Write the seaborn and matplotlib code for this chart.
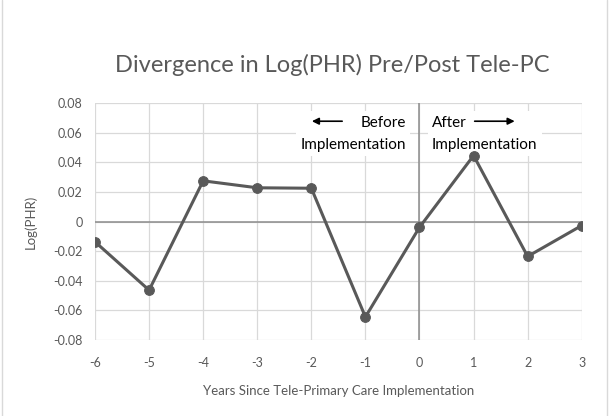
# -*- coding: utf-8 -*-

import matplotlib.pyplot as plt
import matplotlib.lines as mlines
import seaborn as sns
import pandas as pd

years = [-6, -5, -4, -3, -2, -1, 0, 1, 2, 3]
log_phr = [-0.0137, -0.0464, 0.0275, 0.0228, 0.0225, -0.0645, -0.0039, 0.0446, -0.0236, -0.0027]
y_ticks = [-0.08, -0.06, -0.04, -0.02, 0, 0.02, 0.04, 0.06, 0.08]
y_tick_labels = ['-0.08', '-0.06', '-0.04', '-0.02', '0', '0.02', '0.04', '0.06', '0.08']

df = pd.DataFrame({'Year': years, 'LogPHR': log_phr})

sns.set_style("white")
plt.rcParams['font.family'] = ['Lato', 'DejaVu Sans']

gray = '#595959'
fig = plt.figure(figsize=(6.13, 4.16), dpi=100)
ax = fig.add_axes([0.155, 0.183, 0.794, 0.569])

ax.grid(True, color='#d9d9d9', linewidth=0.9)
ax.set_axisbelow(True)
ax.axhline(0, color='#8c8c8c', linewidth=1.1, zorder=1)

sns.lineplot(data=df, x='Year', y='LogPHR', ax=ax, color=gray, linewidth=2.2,
             marker='o', markersize=7, markeredgecolor=gray, zorder=6)

ax.set_xlim(-6, 3)
ax.set_ylim(-0.08, 0.08)
ax.set_xticks(years)
ax.set_xticklabels([str(y) for y in years])
ax.set_yticks(y_ticks)
ax.set_yticklabels(y_tick_labels)
ax.tick_params(axis='both', colors=gray, labelsize=9, length=0)
ax.tick_params(axis='x', pad=12)
ax.tick_params(axis='y', pad=9)
for s in ax.spines.values():
    s.set_visible(False)

ax.set_xlabel('Years Since Tele-Primary Care Implementation', color=gray, fontsize=9.5, labelpad=12)
ax.set_ylabel('Log(PHR)', color=gray, fontsize=9.5, labelpad=12)

fig.text(0.542, 0.845, 'Divergence in Log(PHR) Pre/Post Tele-PC', ha='center', va='center',
         color=gray, fontsize=17)

# annotation boxes
ax.text(-0.25, 0.0592, 'Before\nImplementation', ha='right', va='center', fontsize=11,
        color='black', linespacing=1.8, zorder=4,
        bbox=dict(facecolor='white', edgecolor='none', pad=3))
ax.text(0.23, 0.0592, 'After\nImplementation', ha='left', va='center', fontsize=11,
        color='black', linespacing=1.8, zorder=4,
        bbox=dict(facecolor='white', edgecolor='none', pad=3))
ax.axvline(0, color='#8c8c8c', linewidth=1.1, zorder=4.5)
arrow_style = dict(arrowstyle='-|>', color='black', lw=1.2, mutation_scale=10,
                   shrinkA=0, shrinkB=0)
ax.annotate('', xy=(-1.99, 0.0678), xytext=(-1.43, 0.0678), zorder=5, arrowprops=arrow_style)
ax.annotate('', xy=(1.76, 0.0678), xytext=(1.02, 0.0678), zorder=5, arrowprops=arrow_style)

# chart border lines
fig.add_artist(mlines.Line2D([0.003, 0.003], [0, 1], color='#d9d9d9', linewidth=1))
fig.add_artist(mlines.Line2D([0.99, 0.99], [0, 1], color='#d9d9d9', linewidth=1))

plt.savefig('out.png', dpi=100)
